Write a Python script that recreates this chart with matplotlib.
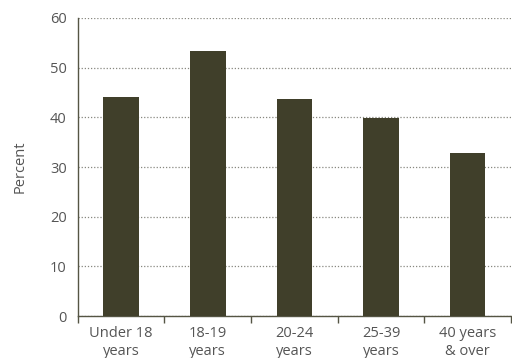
import matplotlib
matplotlib.use("Agg")
import matplotlib.pyplot as plt
import numpy as np

categories = ["Under 18\nyears", "18-19\nyears", "20-24\nyears", "25-39\nyears", "40 years\n& over"]
percent = [44.1, 53.3, 43.7, 39.8, 32.8]

bar_color = "#403f2a"
text_color = "#555555"
plt.rcParams["font.family"] = ["Open Sans", "DejaVu Sans"]

fig = plt.figure(figsize=(5.12, 3.58), dpi=100)
ax = fig.add_axes([0.152, 0.117, 0.846, 0.833])

x = np.arange(len(categories))
ax.bar(x, percent, width=0.41, color=bar_color, zorder=3)

ax.set_xlim(-0.5, len(categories) - 0.5)
ax.set_ylim(0, 60)
ax.set_yticks(np.arange(0, 61, 10))
ax.yaxis.grid(True, linestyle=(0, (1, 1.5)), color="#888880", linewidth=0.9, zorder=0)

ax.set_xticks(x)
ax.set_xticklabels(categories, color=text_color, fontsize=10.5, linespacing=1.25)
ax.set_xticks(np.arange(-0.5, len(categories), 1.0), minor=True)
ax.tick_params(axis="x", which="major", length=0, pad=7)
ax.tick_params(axis="x", which="minor", length=5, color="#555544", width=1)
ax.tick_params(axis="y", length=0, pad=8, labelsize=10.5, labelcolor=text_color)

for side in ["top", "right"]:
    ax.spines[side].set_visible(False)
ax.spines["left"].set_color("#555544")
ax.spines["bottom"].set_color("#555544")
ax.spines["left"].set_linewidth(1)
ax.spines["bottom"].set_linewidth(1)

ax.set_ylabel("Percent", color=text_color, fontsize=10.5, labelpad=16)

fig.savefig("out.png", dpi=100)
